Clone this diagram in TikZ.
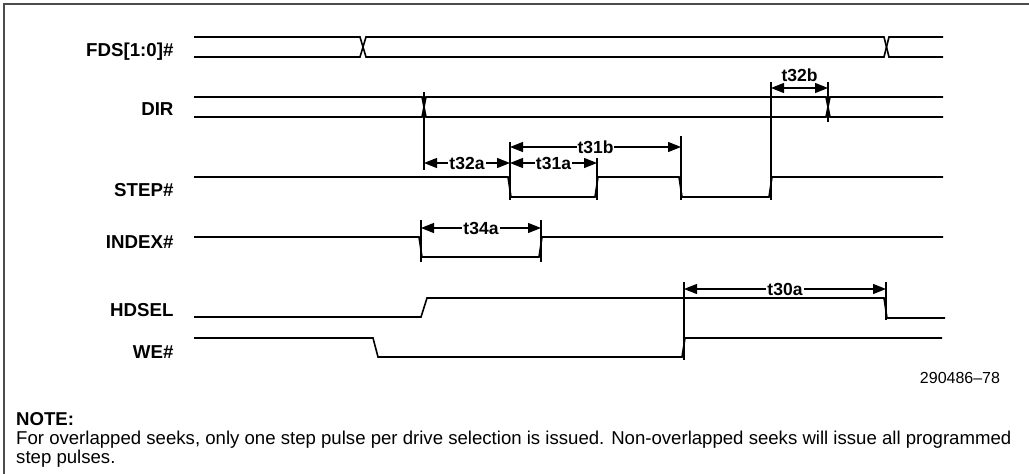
\documentclass[tikz,border=0pt]{standalone}
\usepackage{fontspec}
\setmainfont{Liberation Sans}
\usetikzlibrary{arrows.meta}

\begin{document}
\begin{tikzpicture}[x=1pt,y=-1pt,
    sig/.style={line width=1.6pt},
    tickline/.style={line width=1.3pt},
    dim/.style={line width=1.1pt,{Triangle[length=13pt,width=10pt]}-{Triangle[length=13pt,width=10pt]}},
    dimlabel/.style={fill=white,inner xsep=1pt,inner ysep=0pt,font=\bfseries\fontsize{17.5}{17.5}\selectfont},
    siglabel/.style={anchor=base east,font=\bfseries\fontsize{18.7}{18.7}\selectfont},
    notetext/.style={anchor=base west,inner sep=0pt,font=\fontsize{18.6}{18.6}\selectfont}]
    \useasboundingbox (0,0) rectangle (1029,474);
    \draw[line width=1.2pt,black!70] (4,474) -- (4,4) -- (1029,4);

    % Signal names
    \node[siglabel] (fds) at (177,56.5) {FDS[1:0]\#};
    \node[siglabel] (dir) at (177,115) {DIR};
    \node[siglabel] (step) at (177,196.5) {STEP\#};
    \node[siglabel] (index) at (177,248.5) {INDEX\#};
    \node[siglabel] (hdsel) at (177,316.5) {HDSEL};
    \node[siglabel] (we) at (177,358) {WE\#};

    % Waveforms
    \draw[sig] (194,37) -- (360,37) -- (366,57) -- (884,57) -- (889,37) -- (943,37);
    \draw[sig] (194,57) -- (360,57) -- (366,37) -- (884,37) -- (889,57) -- (943,57);
    \draw[sig] (194,97) -- (422,97) -- (426,117) -- (826,117) -- (830,97) -- (943,97);
    \draw[sig] (194,117) -- (422,117) -- (426,97) -- (826,97) -- (830,117) -- (943,117);
    \draw[sig] (194,177) -- (508,177) -- (511,197) -- (595,197) -- (598,177) -- (679,177)
        -- (682,197) -- (769,197) -- (772,177) -- (943,177);
    \draw[sig] (194,237) -- (419,237) -- (422,257) -- (539,257) -- (542,237) -- (943,237);
    \draw[sig] (194,317) -- (421,317) -- (427,298) -- (884,298) -- (887,318) -- (945,318);
    \draw[sig] (194,338) -- (373,338) -- (378,357) -- (682,357) -- (685,338) -- (942,338);

    % Timing marks
    \foreach \x/\ya/\yb in {424/92/170, 828/82/122, 510/142/200, 597/158/200, 681/136/200,
                            771/82/200, 421/220/262, 541/220/262, 684/282/360, 886/282/320} {
        \draw[tickline] (\x,\ya) -- (\x,\yb);
    }

    % Timing parameters
    \foreach \xa/\xb/\y/\lab in {424/510/163/t32a, 510/597/163/t31a, 510/681/147/t31b,
                                 421/541/228/t34a, 684/886/289/t30a} {
        \coordinate (\lab-l) at (\xa,\y);
        \coordinate (\lab-r) at (\xb,\y);
        \draw[dim] (\lab-l) -- node[dimlabel] (\lab) {\lab} (\lab-r);
    }
    \coordinate (t32b-l) at (771,88);
    \coordinate (t32b-r) at (828,88);
    \draw[dim] (t32b-l) -- node[dimlabel,fill=none,above=6pt] (t32b) {t32b} (t32b-r);

    % Figure number and note
    \node[anchor=base,font=\fontsize{16}{16}\selectfont] (fignum) at (960,383) {290486--78};
    \node[notetext,font=\bfseries\fontsize{18.6}{18.6}\selectfont] (note) at (16,425.5) {NOTE:};
    \node[notetext] (note1) at (16,444)
        {For overlapped seeks, only one step pulse per drive selection is issued. Non-overlapped seeks will issue all programmed};
    \node[notetext] (note2) at (16,463) {step pulses.};
\end{tikzpicture}
\end{document}
